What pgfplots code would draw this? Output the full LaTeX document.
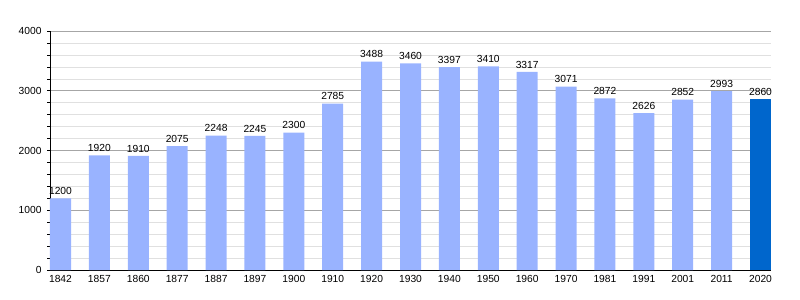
\documentclass[border=0pt]{standalone}
\usepackage{pgfplots}
\pgfplotsset{compat=1.18}
\usepackage{fontspec}
\setmainfont{Liberation Sans}
\definecolor{barlight}{HTML}{99B3FF}
\definecolor{bardark}{HTML}{0066CC}
\begin{document}
\begin{tikzpicture}
\path[use as bounding box] (-50bp,-30bp) rectangle (750bp,270bp);
\begin{axis}[
  at={(0,0)}, anchor=south west,
  scale only axis, width=721bp, height=239bp,
  xmin=-0.27, xmax=18.27, ymin=0, ymax=4000,
  axis x line*=bottom, axis y line*=left,
  axis line style={black, line width=0.8pt, -},
  xtick={0,...,18},
  xticklabels={1842,1857,1860,1877,1887,1897,1900,1910,1920,1930,1940,1950,1960,1970,1981,1991,2001,2011,2020},
  x tick style={draw=none},
  ytick={0,1000,2000,3000,4000},
  minor y tick num=4,
  ymajorgrids, yminorgrids,
  major grid style={draw=black!35, line width=0.6pt},
  minor grid style={draw=black!12, line width=0.6pt},
  y tick style={black, line width=0.6pt},
  tick align=outside, major tick length=3bp, minor tick length=3bp,
  tick label style={font=\fontsize{10.3}{12}\selectfont},
  /pgf/number format/assume math mode=true,
  /pgf/number format/1000 sep={},
  xticklabel style={yshift=1bp},
  yticklabel style={xshift=-2bp},
  ybar, bar width=21bp, bar shift=0pt,
  nodes near coords,
  every node near coord/.append style={font=\fontsize{10.3}{12}\selectfont, text=black, inner sep=1.5bp, yshift=2bp},
  clip=false,
]
\addplot[fill=barlight, draw=none] coordinates {
 (0,1200) (1,1920) (2,1910) (3,2075) (4,2248) (5,2245) (6,2300) (7,2785) (8,3488)
 (9,3460) (10,3397) (11,3410) (12,3317) (13,3071) (14,2872) (15,2626) (16,2852) (17,2993)
};
\addplot[fill=bardark, draw=none] coordinates {(18,2860)};
\end{axis}
\end{tikzpicture}
\end{document}
